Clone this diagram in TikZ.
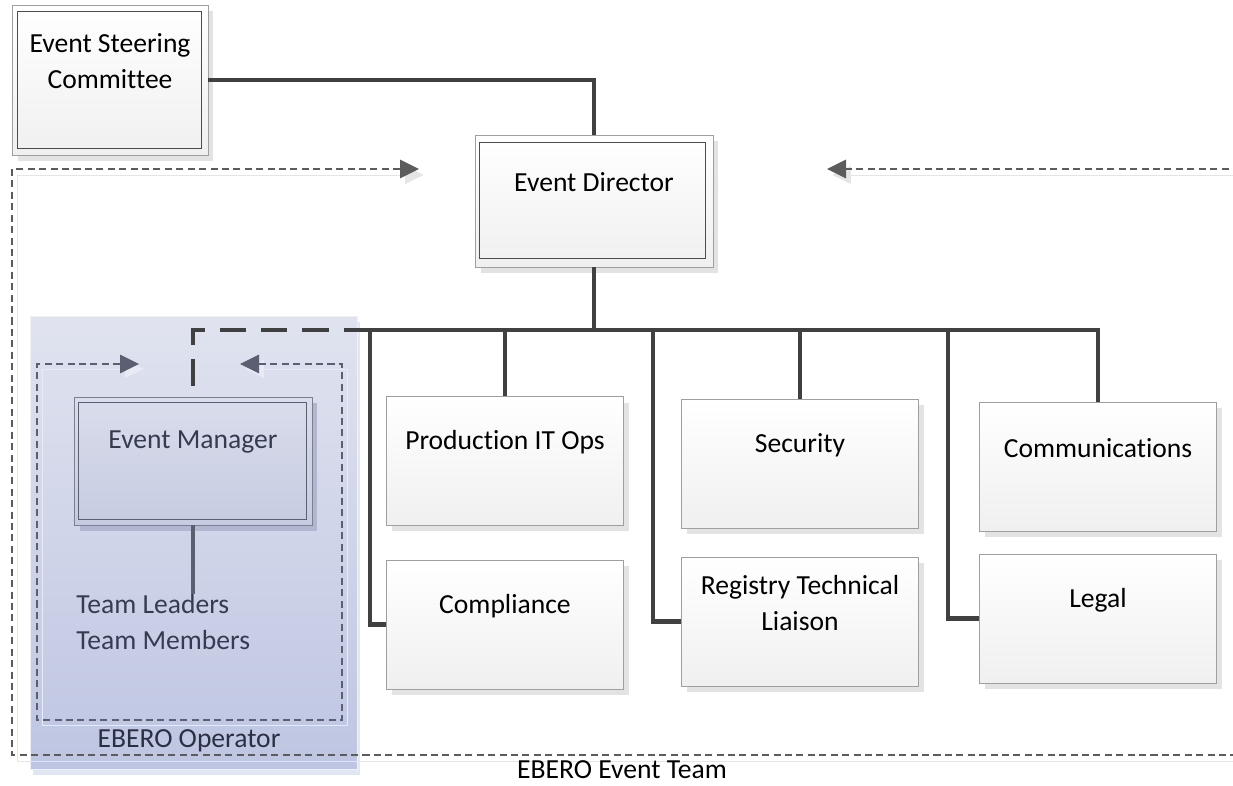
\documentclass[tikz,border=0pt]{standalone}
\usepackage{fontspec}
\setmainfont{Carlito}[Ligatures={NoCommon}]
\usetikzlibrary{arrows.meta,shadows,positioning,calc}

\definecolor{linkgray}{HTML}{404040}
\definecolor{framegray}{HTML}{5C5C5C}
\definecolor{optop}{HTML}{E0E3EF}
\definecolor{opbot}{HTML}{BEC5E2}
\definecolor{mgrtop}{HTML}{D9DDEB}
\definecolor{mgrbot}{HTML}{C6CBE1}
\definecolor{mgrink}{HTML}{353C52}
\definecolor{mgrline}{HTML}{5A6072}

\tikzset{
  boxtext/.style={font=\fontsize{15.7pt}{20.5pt}\selectfont, align=center, yshift=0.37cm},
  unit/.style={rectangle, draw=gray!75, top color=white, bottom color=gray!12,
      minimum width=4.74cm, minimum height=2.58cm,
      drop shadow={shadow xshift=0.11cm, shadow yshift=-0.12cm, fill=gray!22, opacity=1},
      label={[boxtext]center:{#1}}},
  mgr/.style={rectangle, draw=mgrline!80, top color=mgrtop, bottom color=mgrbot,
      minimum width=4.76cm, minimum height=2.56cm,
      drop shadow={shadow xshift=0.11cm, shadow yshift=-0.12cm, fill=opbot!80!gray, opacity=1},
      label={[boxtext, text=mgrink]center:{#1}}},
  plain/.style={font=\fontsize{15.7pt}{20.5pt}\selectfont, inner sep=0pt},
  link/.style={draw=linkgray, line width=2.3pt},
  frame/.style={draw=framegray, line width=0.6pt, dash pattern=on 4pt off 2.5pt,
      preaction={draw=gray!20, transform canvas={shift={(0.1cm,-0.12cm)}}}},
  opframe/.style={draw=mgrline, line width=0.6pt, dash pattern=on 4pt off 2.5pt,
      preaction={draw=optop!70!white, transform canvas={shift={(0.1cm,-0.1cm)}}}},
}

\begin{document}
\begin{tikzpicture}[x=0.02cm,y=-0.02cm,>={Triangle[length=0.38cm,width=0.37cm]}]
    \useasboundingbox (0,0) rectangle (1233,786);

    % operator area (drawn first, the team frame runs over it)
    \node[rectangle, draw=optop!50!white, top color=optop, bottom color=opbot,
        minimum width=6.54cm, minimum height=9.06cm,
        drop shadow={shadow xshift=0.06cm, shadow yshift=-0.12cm, fill=opbot!45!white, opacity=1}]
        (op) at (193.5,542.5) {};
    \node[plain, text=mgrink!80!black] (opname) at (189,741) {EBERO Operator};

    % event team frame, open towards the director
    \coordinate (teamL) at (419,169);
    \coordinate (teamR) at (827,169);
    \draw[frame,<-] (teamL) -- (12,169) -- (12,755) -- (1240,755);
    \draw[frame,->] (1240,169) -- (teamR);
    \node[plain] (teamname) at (622,770) {EBERO Event Team};

    % operator frame
    \coordinate (opL) at (139,364);
    \coordinate (opR) at (240,364);
    \draw[opframe,<->] (opL) -- (37,364) -- (37,720) -- (342,720) -- (342,364) -- (opR);

    % boxes
    \node[unit={Event Steering\\Committee}, minimum width=3.92cm, minimum height=3cm] (esc) at (110,80) {};
    \draw[black!70, line width=0.6pt] ([shift={(0.11cm,-0.14cm)}]esc.north west) rectangle ([shift={(-0.14cm,0.13cm)}]esc.south east);

    \node[unit={Event Director}, minimum width=4.76cm, minimum height=2.64cm] (ed) at (594,201) {};
    \draw[black!70, line width=0.6pt] ([shift={(0.1cm,-0.16cm)}]ed.north west) rectangle ([shift={(-0.16cm,0.17cm)}]ed.south east);

    \node[mgr={Event Manager}] (em) at (193,461) {};
    \draw[mgrline, line width=0.6pt] ([shift={(0.1cm,-0.12cm)}]em.north west) rectangle ([shift={(-0.12cm,0.12cm)}]em.south east);

    \node[unit={Production IT Ops}] (prod) at (505,461) {};
    \node[unit={Security}] (sec) at (800,463.5) {};
    \node[unit={Communications}] (comm) at (1098,466.5) {};
    \node[unit={Compliance}] (comp) at (505,624.5) {};
    \node[unit={Registry Technical\\Liaison}] (reg) at (800,621.5) {};
    \node[unit={Legal}] (legal) at (1098,618.5) {};

    \node[plain, anchor=north west, align=left, text=mgrink] (members) at (76,594) {Team Leaders\\Team Members};

    % connectors
    \coordinate (hub) at (594,330);
    \draw[link] (esc.east) -| (ed.north);
    \draw[link] (ed.south) -- (hub);
    \draw[link] (comp.west) -| (370,330) -| (comm.north);
    \draw[link] (prod.north) -- (prod.north |- hub);
    \draw[link] (sec.north) -- (sec.north |- hub);
    \draw[link] (reg.west) -| (653,330);
    \draw[link] (legal.west) -| (948,330);
    \draw[link, dash pattern=on 15pt off 8.5pt] (370,330) -| (em.north);
    \draw[draw=mgrline, line width=2pt] (em.south) -- (em.south |- members.north);
\end{tikzpicture}
\end{document}
